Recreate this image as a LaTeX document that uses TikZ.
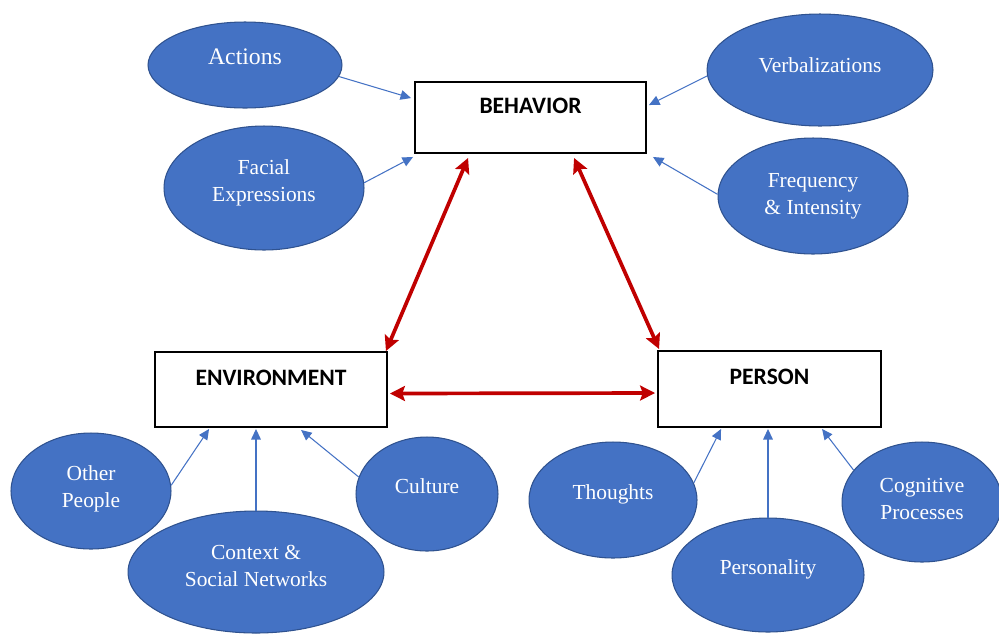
\documentclass[tikz,border=0pt]{standalone}
\usepackage{fontspec}
\setmainfont{Liberation Serif}
\newfontfamily\boxfont{Carlito}
\usetikzlibrary{calc}
\usetikzlibrary{positioning, shapes, arrows.meta}

\definecolor{officeblue}{HTML}{4472C4}
\definecolor{officeline}{HTML}{2F528F}
\definecolor{darkred}{HTML}{C00000}

\tikzset{
  block/.style={draw=black, line width=1.1pt, fill=white, minimum width=4.62cm,
    minimum height=1.45cm, font=\boxfont\bfseries\fontsize{13.4}{16}\selectfont,
    text height=9pt, text depth=14pt},
  bubble/.style={ellipse, draw=officeline, line width=0.6pt, fill=officeblue,
    text=white, inner sep=0pt, align=center, text depth=9pt,
    font=\fontsize{12.2}{15.3}\selectfont},
  feed/.style={draw=officeblue, line width=0.6pt, -{Triangle[length=6pt,width=5.5pt]}},
  link/.style={draw=darkred, line width=2.1pt,
    {Stealth[length=8.5pt,width=8.5pt,inset=1.5pt]}-{Stealth[length=8.5pt,width=8.5pt,inset=1.5pt]}}
}

\begin{document}
\begin{tikzpicture}[x=0.02cm, y=-0.02cm]
\useasboundingbox (0,0) rectangle (999,633);

% the three main boxes
\node [block, minimum height=1.42cm] (beh) at (530.5,117.5) {BEHAVIOR};
\node [block, minimum width=4.64cm, minimum height=1.5cm] (env) at (271,389.5) {ENVIRONMENT};
\node [block, minimum width=4.46cm, minimum height=1.52cm] (pers) at (769.5,389) {PERSON};

% behavior
\node [bubble, minimum width=3.88cm, minimum height=1.72cm, font=\fontsize{13.5}{16}\selectfont] (act) at (245,65) {Actions};
\node [bubble, minimum width=4cm, minimum height=2.48cm, text depth=8pt] (fac) at (264,188) {Facial\\Expressions};
\node [bubble, minimum width=4.52cm, minimum height=2.24cm, text depth=6pt] (verb) at (820,70) {Verbalizations};
\node [bubble, minimum width=3.8cm, minimum height=2.32cm, text depth=2pt] (freq) at (813,196) {Frequency\\\& Intensity};

% environment
\node [bubble, minimum width=3.2cm, minimum height=2.32cm, text depth=5pt] (oth) at (91,491) {Other\\People};
\node [bubble, minimum width=5.12cm, minimum height=2.44cm, text depth=7pt] (ctx) at (256,572) {Context \&\\Social Networks};
\node [bubble, minimum width=2.84cm, minimum height=2.28cm] (cul) at (427,494) {Culture};

% person
\node [bubble, minimum width=3.36cm, minimum height=2.32cm] (tho) at (613,500) {Thoughts};
\node [bubble, minimum width=3.84cm, minimum height=2.28cm] (pty) at (768,575) {Personality};
\node [bubble, minimum width=3.2cm, minimum height=2.4cm, text depth=4pt] (cog) at (922,502) {Cognitive\\Processes};

% small arrows
\draw [feed] (act.-7) -- ($(beh.north west)+(-3,17)$);
\draw [feed] (fac.3) -- ($(beh.south west)+(-1,3)$);
\draw [feed] (verb.183) -- ($(beh.north east)+(2,24)$);
\draw [feed] (freq.179) -- ($(beh.south east)+(6,3)$);
\draw [feed] (oth.4) -- ($(env.south west)+(55,1)$);
\draw [feed] (ctx.north) -- ($(ctx.north |- env.south)+(0,1)$);
\draw [feed] (cul.166) -- ($(env.south west)+(147,2)$);
\draw [feed] (tho.12) -- ($(pers.south west)+(64,1)$);
\draw [feed] (pty.north) -- ($(pty.north |- pers.south)+(0,1)$);
\draw [feed] (cog.155) -- ($(pers.south west)+(165,1)$);

% triangle between the boxes
\draw [link] ($(beh.south west)+(54,4)$) -- ($(env.north east)+(-2,0)$);
\draw [link] ($(beh.south west)+(160,4)$) -- ($(pers.north west)+(2,-1)$);
\draw [link] ($(env.east)+(2,4)$) -- ($(pers.west)+(-2,4)$);
\end{tikzpicture}
\end{document}
